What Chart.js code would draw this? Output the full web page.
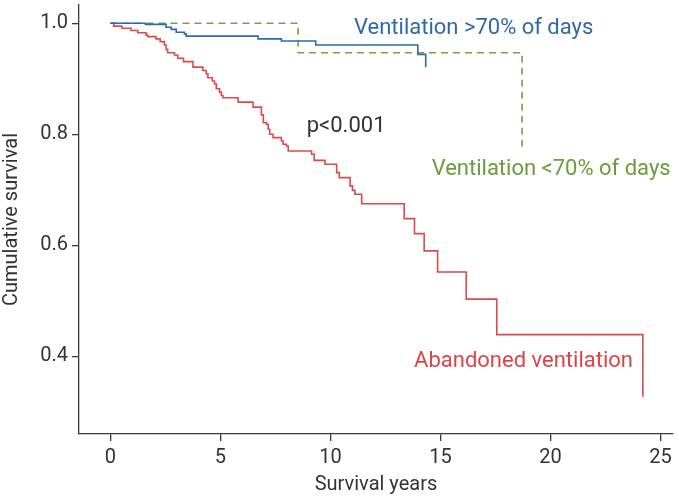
<!DOCTYPE html>
<html>
<head>
<meta charset="utf-8">
<script src="https://cdn.jsdelivr.net/npm/chart.js@4.4.1/dist/chart.umd.min.js"></script>
<style>
  html, body { margin: 0; padding: 0; background: #fff; }
  #wrap { width: 679px; height: 497px; }
</style>
</head>
<body>
<div id="wrap"><canvas id="kmChart"></canvas></div>
<script>
// Kaplan-Meier steps: time (years) at which survival drops to the given value
const highTimes = [0, 1.59, 2.53, 2.76, 2.99, 3.36, 3.44, 6.71, 7.77, 9.33, 13.97, 14.33];
const highSurv  = [1.0, 0.998, 0.993, 0.989, 0.984, 0.981, 0.977, 0.972, 0.968, 0.961, 0.944, 0.921];

const lowTimes = [0, 8.53, 18.71];
const lowSurv  = [1.0, 0.947, 0.776];

const abandonedTimes = [0, 0.15, 0.52, 0.93, 1.24, 1.62, 1.69, 2.07, 2.26, 2.45, 2.53, 2.60, 2.91, 3.06, 3.32,
  3.75, 4.20, 4.35, 4.43, 4.63, 4.73, 4.81, 4.96, 5.04, 5.11, 5.80, 6.48, 6.86, 6.95, 7.09, 7.17, 7.24, 7.39,
  7.77, 7.85, 8.00, 8.08, 9.14, 9.26, 9.75, 10.28, 10.40, 10.89, 11.00, 11.11, 11.42, 13.35, 13.82, 14.26,
  14.87, 16.17, 17.56, 24.20];
const abandonedSurv = [1.0, 0.995, 0.991, 0.987, 0.983, 0.979, 0.976, 0.972, 0.967, 0.961, 0.953, 0.947, 0.943,
  0.937, 0.931, 0.921, 0.915, 0.909, 0.902, 0.896, 0.891, 0.882, 0.876, 0.870, 0.866, 0.858, 0.849, 0.835,
  0.821, 0.818, 0.809, 0.800, 0.794, 0.788, 0.782, 0.779, 0.770, 0.764, 0.753, 0.746, 0.731, 0.722, 0.707,
  0.699, 0.692, 0.675, 0.648, 0.621, 0.590, 0.552, 0.503, 0.439, 0.327];

const xTicks = [0, 5, 10, 15, 20, 25];
const yTicks = [0.4, 0.6, 0.8, 1.0];

const FONT = "Roboto";
const AXIS = "#3a3a3a";

function toPoints(xs, ys) {
  return xs.map((x, i) => ({ x: x, y: ys[i] }));
}

// text labels placed in data coordinates
const labels = [
  { text: "Ventilation >70% of days", x: 11.07, y: 0.981, color: "#2f69a8" },
  { text: "p<0.001", x: 8.92, y: 0.805, color: "#333333" },
  { text: "Ventilation <70% of days", x: 14.6, y: 0.727, color: "#6f9a3c" },
  { text: "Abandoned ventilation", x: 13.8, y: 0.381, color: "#d9454a" },
];

const labelPlugin = {
  id: "kmLabels",
  afterDatasetsDraw(chart) {
    const { ctx, scales } = chart;
    ctx.save();
    ctx.font = "22px " + FONT;
    ctx.textBaseline = "alphabetic";
    ctx.textAlign = "left";
    labels.forEach((l) => {
      ctx.fillStyle = l.color;
      ctx.fillText(l.text, scales.x.getPixelForValue(l.x), scales.y.getPixelForValue(l.y));
    });
    ctx.restore();
  },
};

new Chart(document.getElementById("kmChart"), {
  type: "line",
  data: {
    datasets: [
      {
        label: "Ventilation >70% of days",
        data: toPoints(highTimes, highSurv),
        borderColor: "#2f69a8",
        borderWidth: 1.6,
        stepped: "before",
        pointRadius: 0,
        fill: false,
      },
      {
        label: "Abandoned ventilation",
        data: toPoints(abandonedTimes, abandonedSurv),
        borderColor: "#dc4a4c",
        borderWidth: 1.6,
        stepped: "before",
        pointRadius: 0,
        fill: false,
      },
      {
        label: "Ventilation <70% of days",
        data: toPoints(lowTimes, lowSurv),
        borderColor: "#7c9c4a",
        borderWidth: 1.6,
        borderDash: [7, 5],
        stepped: "before",
        pointRadius: 0,
        fill: false,
      },
    ],
  },
  options: {
    responsive: true,
    maintainAspectRatio: false,
    animation: false,
    layout: { padding: { top: 5, right: 6, left: 0, bottom: 0 } },
    plugins: {
      legend: { display: false },
      tooltip: { enabled: false },
    },
    scales: {
      x: {
        type: "linear",
        min: -1.43,
        max: 25.57,
        afterBuildTicks: (axis) => { axis.ticks = xTicks.map((v) => ({ value: v })); },
        afterFit: (axis) => { axis.height = 63; },
        grid: { display: true, drawOnChartArea: false, drawTicks: true, tickLength: 7, color: AXIS, lineWidth: 1.3 },
        border: { display: true, color: AXIS, width: 1.3 },
        ticks: { color: "#333", font: { family: FONT, size: 20 }, padding: 5, maxRotation: 0 },
        title: { display: true, text: "Survival years", color: "#333", font: { family: FONT, size: 20 }, padding: 0 },
      },
      y: {
        type: "linear",
        min: 0.26,
        max: 1.033,
        afterBuildTicks: (axis) => { axis.ticks = yTicks.map((v) => ({ value: v })); },
        afterFit: (axis) => {
          axis.width = 79;
          axis.paddingTop = 0;
          axis.paddingBottom = 0;
        },
        grid: { display: true, drawOnChartArea: false, drawTicks: true, tickLength: 7, color: AXIS, lineWidth: 1.3 },
        border: { display: true, color: AXIS, width: 1.3 },
        ticks: { color: "#333", font: { family: FONT, size: 20 }, padding: 4, callback: (v) => v.toFixed(1) },
        title: { display: true, text: "Cumulative survival", color: "#333", font: { family: FONT, size: 20 }, padding: 0 },
      },
    },
  },
  plugins: [labelPlugin],
});
</script>
</body>
</html>
